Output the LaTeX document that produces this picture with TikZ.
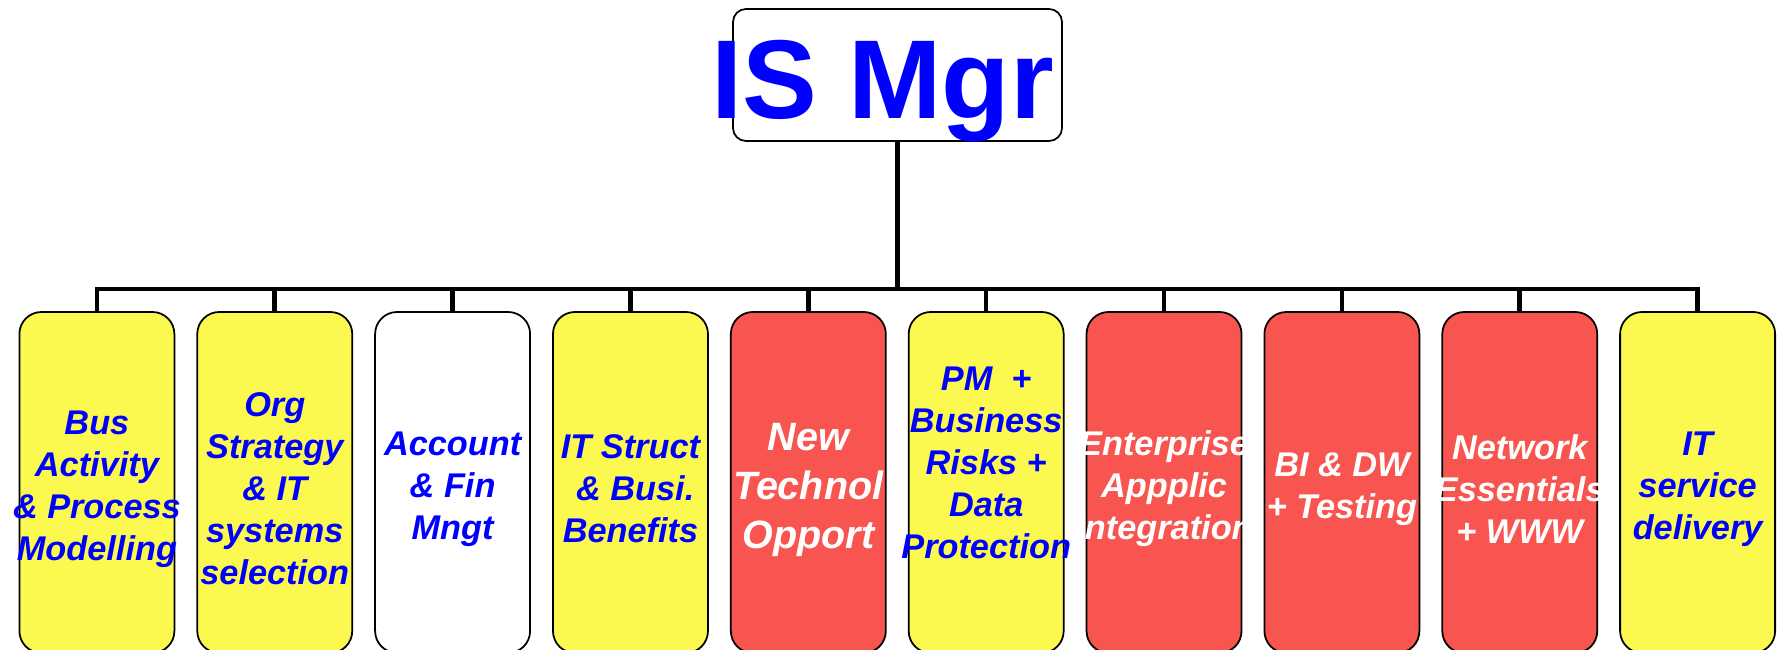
\documentclass[tikz,border=0pt]{standalone}
\usepackage{fontspec}
\setmainfont{Liberation Sans}
\usetikzlibrary{positioning}
\definecolor{isblue}{RGB}{0,0,255}
\definecolor{isyellow}{RGB}{251,249,80}
\definecolor{isred}{RGB}{248,85,80}
\newcommand{\topline}{\rule{0pt}{1.08em}}
\tikzset{topic/.style = {draw, rectangle, rounded corners=0.22cm, line width=0.5pt, minimum width=1.55cm, minimum height=3.41cm, inner xsep=-0.2cm, align=center, font=\fontsize{9.76}{11.95}\selectfont\bfseries\itshape}}
\tikzset{soft/.style = {topic, fill=isyellow, text=isblue}}
\tikzset{plain/.style = {topic, fill=white, text=isblue}}
\tikzset{hard/.style = {topic, fill=isred, text=white}}
\tikzset{head/.style = {draw, rectangle, rounded corners=0.13cm, line width=0.5pt, fill=white, minimum width=3.29cm, minimum height=1.32cm}}
\tikzset{headtext/.style = {text=isblue, inner sep=0pt, anchor=base, font=\fontsize{31.9}{38}\selectfont\bfseries}}
\tikzset{link/.style = {draw, line width=1.3pt}}

\begin{document}
\begin{tikzpicture}[node distance=0.211cm]
  \useasboundingbox (0,0) rectangle (17.77,-6.5);

  \node [head] (mgr) at (8.975,-0.75) {};
  \node [headtext] (mgrtext) at (8.825,-1.19) {IS Mgr};
  \coordinate (hub) at (8.975,-2.89);

  \node [soft] (bus) at (0.969,-4.825) {\topline Bus\\Activity\\\& Process\\Modelling};
  \node [soft, right=of bus] (org) {\topline Org\\Strategy\\\& IT\\systems\\selection};
  \node [plain, right=of org] (fin) {\topline Account\\\& Fin\\Mngt};
  \node [soft, right=of fin] (struct) {\topline IT Struct\\\ \& Busi.\\Benefits};
  \node [hard, right=of struct, font=\fontsize{11.24}{13.94}\selectfont\bfseries\itshape] (tech) {\topline New\\Technol\\Opport};
  \node [soft, right=of tech, text depth=0.54cm] (pm) {\topline PM~ +\\Business\\Risks +\\Data\\Protection};
  \node [hard, right=of pm] (eai) {\topline Enterprise\\Appplic\\Integration};
  \node [hard, right=of eai] (bidw) {\topline BI \& DW\\+ Testing};
  \node [hard, right=of bidw] (net) {\topline Network\\Essentials\\+ WWW};
  \node [soft, right=of net] (itsd) {\topline IT\\service\\delivery};

  \path [link] (mgr) -- (hub);
  \foreach \b in {bus, org, fin, struct, tech, pm, eai, bidw, net, itsd}
    \path [link] (hub) -| (\b.north);
\end{tikzpicture}
\end{document}
